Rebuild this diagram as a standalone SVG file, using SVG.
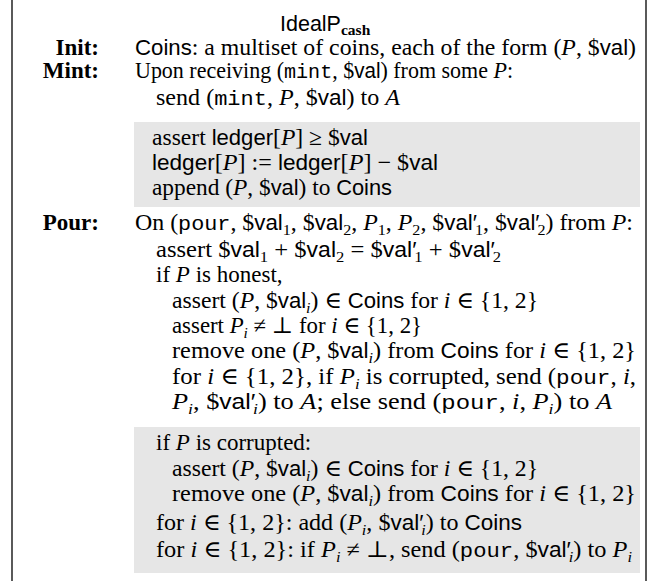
<svg xmlns="http://www.w3.org/2000/svg" width="657" height="581" viewBox="0 0 657 581">
<style>
text{font-family:'Liberation Serif','DejaVu Serif',serif;font-size:23px;fill:#000}
.l{font-weight:bold;text-anchor:end}
.sf{font-family:'Liberation Sans','DejaVu Sans',sans-serif;font-size:21.5px}
.tt{font-family:'Liberation Mono','DejaVu Sans Mono',monospace;font-size:21px}
.c{font-style:italic}
.sb{font-size:15.5px}
.box{fill:#e6e6e6}
.frame{stroke:#000;stroke-width:1.3;fill:none}
</style>
<rect width="657" height="581" fill="#fff"/>
<g id="frame">
<line class="frame" x1="12" y1="0" x2="12" y2="581"/>
<line class="frame" x1="646" y1="0" x2="646" y2="581"/>
</g>
<g id="title">
<text x="280" y="31"><tspan class="sf" font-size="25">IdealP</tspan><tspan font-weight="bold" font-size="15.5" dy="4">cash</tspan></text>
</g>
<g id="init">
<text class="l" x="99" y="55">Init:</text>
<text x="135" y="55" textLength="501" lengthAdjust="spacingAndGlyphs"><tspan class="sf">Coins</tspan>: a multiset of coins, each of the form (<tspan class="c">P</tspan>, $<tspan class="sf">val</tspan>)</text>
</g>
<g id="mint">
<rect class="box" x="134" y="122" width="506" height="85"/>
<text class="l" x="99" y="78">Mint:</text>
<text x="135" y="78" textLength="378" lengthAdjust="spacingAndGlyphs">Upon receiving (<tspan class="tt">mint</tspan>, $<tspan class="sf">val</tspan>) from some <tspan class="c">P</tspan>:</text>
<text x="156" y="105" textLength="244" lengthAdjust="spacingAndGlyphs">send (<tspan class="tt">mint</tspan>, <tspan class="c">P</tspan>, $<tspan class="sf">val</tspan>) to <tspan class="c">A</tspan></text>
<text x="152" y="145" textLength="216" lengthAdjust="spacingAndGlyphs">assert <tspan class="sf">ledger</tspan>[<tspan class="c">P</tspan>] ≥ $<tspan class="sf">val</tspan></text>
<text x="152" y="170" textLength="286" lengthAdjust="spacingAndGlyphs"><tspan class="sf">ledger</tspan>[<tspan class="c">P</tspan>] := <tspan class="sf">ledger</tspan>[<tspan class="c">P</tspan>] − $<tspan class="sf">val</tspan></text>
<text x="152" y="195" textLength="240" lengthAdjust="spacingAndGlyphs">append (<tspan class="c">P</tspan>, $<tspan class="sf">val</tspan>) to <tspan class="sf">Coins</tspan></text>
</g>
<g id="pour">
<rect class="box" x="134" y="427" width="506" height="146"/>
<text class="l" x="99" y="230">Pour:</text>
<text x="135" y="230" textLength="498" lengthAdjust="spacingAndGlyphs">On (<tspan class="tt">pour</tspan>, $<tspan class="sf">val</tspan><tspan class="sb" dy="5">1</tspan><tspan dy="-5">, $</tspan><tspan class="sf">val</tspan><tspan class="sb" dy="5">2</tspan><tspan dy="-5">, </tspan><tspan class="c">P</tspan><tspan class="sb" dy="5">1</tspan><tspan dy="-5">, </tspan><tspan class="c">P</tspan><tspan class="sb" dy="5">2</tspan><tspan dy="-5">, $</tspan><tspan class="sf">val′</tspan><tspan class="sb" dy="5" dx="-2">1</tspan><tspan dy="-5">, $</tspan><tspan class="sf">val′</tspan><tspan class="sb" dy="5" dx="-2">2</tspan><tspan dy="-5">) from </tspan><tspan class="c">P</tspan>:</text>
<text x="156" y="257" textLength="345" lengthAdjust="spacingAndGlyphs">assert $<tspan class="sf">val</tspan><tspan class="sb" dy="5">1</tspan><tspan dy="-5"> + $</tspan><tspan class="sf">val</tspan><tspan class="sb" dy="5">2</tspan><tspan dy="-5"> = $</tspan><tspan class="sf">val′</tspan><tspan class="sb" dy="5" dx="-2">1</tspan><tspan dy="-5"> + $</tspan><tspan class="sf">val′</tspan><tspan class="sb" dy="5" dx="-2">2</tspan></text>
<text x="156" y="282">if <tspan class="c">P</tspan> is honest,</text>
<text x="172" y="308" textLength="366" lengthAdjust="spacingAndGlyphs">assert (<tspan class="c">P</tspan>, $<tspan class="sf">val</tspan><tspan class="sb c" dy="5">i</tspan><tspan dy="-5">) ∈ </tspan><tspan class="sf">Coins</tspan> for <tspan class="c">i</tspan> ∈ {1, 2}</text>
<text x="172" y="333" textLength="250" lengthAdjust="spacingAndGlyphs">assert <tspan class="c">P</tspan><tspan class="sb c" dy="5">i</tspan><tspan dy="-5"> ≠ ⊥ for </tspan><tspan class="c">i</tspan> ∈ {1, 2}</text>
<text x="172" y="358" textLength="464" lengthAdjust="spacingAndGlyphs">remove one (<tspan class="c">P</tspan>, $<tspan class="sf">val</tspan><tspan class="sb c" dy="5">i</tspan><tspan dy="-5">) from </tspan><tspan class="sf">Coins</tspan> for <tspan class="c">i</tspan> ∈ {1, 2}</text>
<text x="172" y="384" textLength="464" lengthAdjust="spacingAndGlyphs">for <tspan class="c">i</tspan> ∈ {1, 2}, if <tspan class="c">P</tspan><tspan class="sb c" dy="5">i</tspan><tspan dy="-5"> is corrupted, send (</tspan><tspan class="tt">pour</tspan>, <tspan class="c">i</tspan>,</text>
<text x="172" y="409" textLength="440" lengthAdjust="spacingAndGlyphs"><tspan class="c">P</tspan><tspan class="sb c" dy="5">i</tspan><tspan dy="-5">, $</tspan><tspan class="sf">val′</tspan><tspan class="sb c" dy="5" dx="-2">i</tspan><tspan dy="-5">) to </tspan><tspan class="c">A</tspan>; else send (<tspan class="tt">pour</tspan>, <tspan class="c">i</tspan>, <tspan class="c">P</tspan><tspan class="sb c" dy="5">i</tspan><tspan dy="-5">) to </tspan><tspan class="c">A</tspan></text>
<text x="156" y="450">if <tspan class="c">P</tspan> is corrupted:</text>
<text x="172" y="476" textLength="366" lengthAdjust="spacingAndGlyphs">assert (<tspan class="c">P</tspan>, $<tspan class="sf">val</tspan><tspan class="sb c" dy="5">i</tspan><tspan dy="-5">) ∈ </tspan><tspan class="sf">Coins</tspan> for <tspan class="c">i</tspan> ∈ {1, 2}</text>
<text x="172" y="501" textLength="464" lengthAdjust="spacingAndGlyphs">remove one (<tspan class="c">P</tspan>, $<tspan class="sf">val</tspan><tspan class="sb c" dy="5">i</tspan><tspan dy="-5">) from </tspan><tspan class="sf">Coins</tspan> for <tspan class="c">i</tspan> ∈ {1, 2}</text>
<text x="156" y="530" textLength="366" lengthAdjust="spacingAndGlyphs">for <tspan class="c">i</tspan> ∈ {1, 2}: add (<tspan class="c">P</tspan><tspan class="sb c" dy="5">i</tspan><tspan dy="-5">, $</tspan><tspan class="sf">val′</tspan><tspan class="sb c" dy="5" dx="-2">i</tspan><tspan dy="-5">) to </tspan><tspan class="sf">Coins</tspan></text>
<text x="156" y="557" textLength="476" lengthAdjust="spacingAndGlyphs">for <tspan class="c">i</tspan> ∈ {1, 2}: if <tspan class="c">P</tspan><tspan class="sb c" dy="5">i</tspan><tspan dy="-5"> ≠ ⊥, send (</tspan><tspan class="tt">pour</tspan>, $<tspan class="sf">val′</tspan><tspan class="sb c" dy="5" dx="-2">i</tspan><tspan dy="-5">) to </tspan><tspan class="c">P</tspan><tspan class="sb c" dy="5">i</tspan></text>
</g>
</svg>
